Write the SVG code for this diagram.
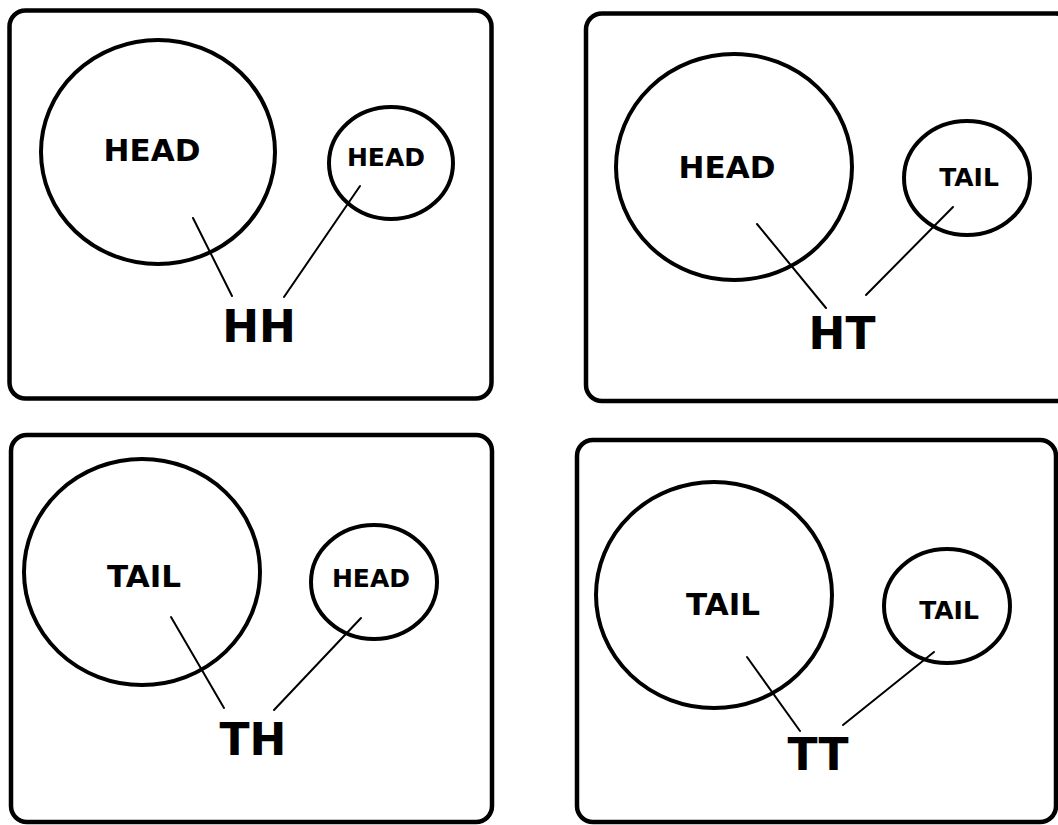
<svg xmlns="http://www.w3.org/2000/svg" width="1058" height="825" viewBox="0 0 1058 825">
  <style>
    .frame { fill: none; stroke: #000; stroke-width: 4.5; }
    .coin { fill: none; stroke: #000; stroke-width: 4; }
    .link { stroke: #000; stroke-width: 2; stroke-linecap: round; }
    .lbl { font-family: "DejaVu Sans", Verdana, sans-serif; font-weight: bold; fill: #000; text-anchor: middle; }
    .big { font-size: 31px; }
    .small { font-size: 25px; }
    .pair { font-size: 44px; }
  </style>
  <rect width="1058" height="825" fill="#fff"/>

  <!-- outcome HH -->
  <g id="panel-hh">
    <rect class="frame" x="9.5" y="10.5" width="482" height="388" rx="16"/>
    <g id="hh-coin1">
      <ellipse class="coin" cx="158" cy="152" rx="117" ry="112"/>
      <text class="lbl big" x="152" y="161">HEAD</text>
    </g>
    <g id="hh-coin2">
      <ellipse class="coin" cx="391" cy="163" rx="62" ry="56"/>
      <text class="lbl small" x="386" y="166">HEAD</text>
    </g>
    <text id="hh-label" class="lbl pair" x="259" y="342">HH</text>
  </g>

  <!-- outcome HT -->
  <g id="panel-ht">
    <rect class="frame" x="586" y="13.5" width="486" height="387.5" rx="16"/>
    <g id="ht-coin1">
      <ellipse class="coin" cx="734" cy="167" rx="118" ry="113"/>
      <text class="lbl big" x="727" y="178">HEAD</text>
    </g>
    <g id="ht-coin2">
      <ellipse class="coin" cx="967" cy="178" rx="63" ry="57"/>
      <text class="lbl small" x="969" y="186">TAIL</text>
    </g>
    <text id="ht-label" class="lbl pair" x="842" y="349">HT</text>
  </g>

  <!-- outcome TH -->
  <g id="panel-th">
    <rect class="frame" x="11" y="435" width="481" height="387" rx="16"/>
    <g id="th-coin1">
      <ellipse class="coin" cx="142" cy="572" rx="118" ry="113"/>
      <text class="lbl big" x="144" y="587">TAIL</text>
    </g>
    <g id="th-coin2">
      <ellipse class="coin" cx="374" cy="582" rx="63" ry="57"/>
      <text class="lbl small" x="371" y="587">HEAD</text>
    </g>
    <text id="th-label" class="lbl pair" x="253" y="755">TH</text>
  </g>

  <!-- outcome TT -->
  <g id="panel-tt">
    <rect class="frame" x="577" y="440" width="479" height="382" rx="16"/>
    <g id="tt-coin1">
      <ellipse class="coin" cx="714" cy="595" rx="118" ry="113"/>
      <text class="lbl big" x="723" y="615">TAIL</text>
    </g>
    <g id="tt-coin2">
      <ellipse class="coin" cx="947" cy="606" rx="63" ry="57"/>
      <text class="lbl small" x="949" y="619">TAIL</text>
    </g>
    <text id="tt-label" class="lbl pair" x="818" y="770">TT</text>
  </g>

  <!-- pointers from each coin to its outcome label -->
  <g id="connectors">
    <line class="link" x1="193" y1="218" x2="232" y2="296"/>
    <line class="link" x1="360" y1="186" x2="284" y2="297"/>
    <line class="link" x1="757" y1="224" x2="826" y2="308"/>
    <line class="link" x1="953" y1="207" x2="866" y2="295"/>
    <line class="link" x1="171" y1="617" x2="224" y2="708"/>
    <line class="link" x1="361" y1="618" x2="274" y2="710"/>
    <line class="link" x1="747" y1="657" x2="800" y2="731"/>
    <line class="link" x1="934" y1="652" x2="843" y2="725"/>
  </g>
</svg>
